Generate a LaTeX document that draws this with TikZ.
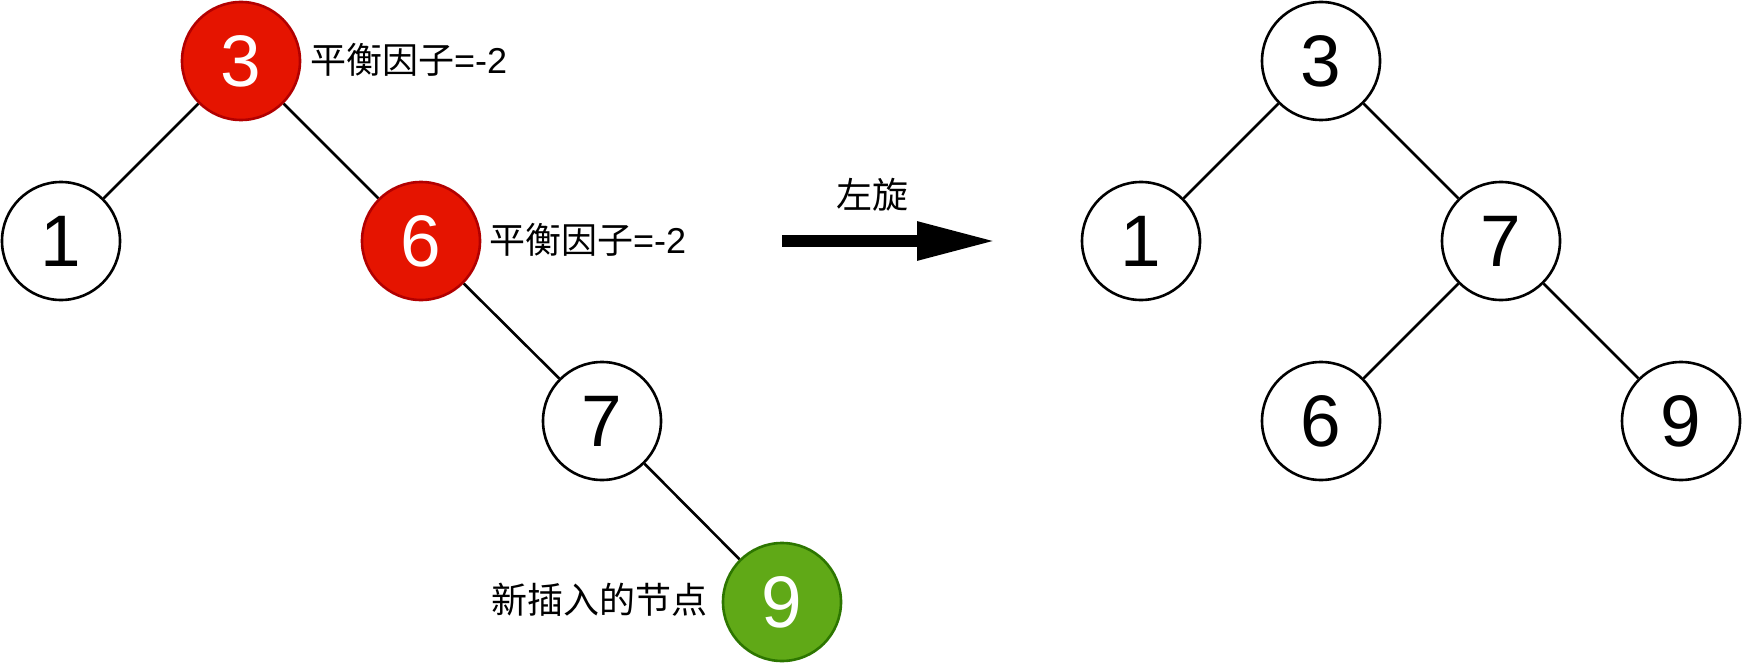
\documentclass[tikz,border=0pt]{standalone}
\usepackage{fontspec}
\setmainfont{Liberation Sans}
\newfontfamily\cjk{Noto Sans CJK SC}
\usetikzlibrary{arrows.meta}
\definecolor{nodered}{HTML}{E51400}
\definecolor{nodereddark}{HTML}{B20000}
\definecolor{nodegreen}{HTML}{60A917}
\definecolor{nodegreendark}{HTML}{2D7600}
\tikzset{
  treenode/.style={circle, draw=black, line width=2.6pt, fill=white, minimum size=118pt, inner sep=0pt, font=\fontsize{73}{73}\selectfont},
  rednode/.style={treenode, draw=nodereddark, fill=nodered, text=white},
  greennode/.style={treenode, draw=nodegreendark, fill=nodegreen, text=white},
  edge/.style={line width=2.6pt, draw=black},
  note/.style={font=\fontsize{36}{40}\selectfont, inner sep=0pt, text=black},
}
\begin{document}
\begin{tikzpicture}[x=1pt, y=-1pt]
\useasboundingbox (0,0) rectangle (1743,666);
% left tree
\node[rednode] (L3) at (241,61) {3};
\node[treenode] (L1) at (61,241) {1};
\node[rednode] (L6) at (421,241) {6};
\node[treenode] (L7) at (602,421) {7};
\node[greennode] (L9) at (782,602) {9};
\draw[edge] (L3) -- (L1);
\draw[edge] (L3) -- (L6);
\draw[edge] (L6) -- (L7);
\draw[edge] (L7) -- (L9);
\node[note, anchor=west] (b3) at (310,60) {{\cjk 平衡因子}=-2};
\node[note, anchor=west] (b6) at (489,240) {{\cjk 平衡因子}=-2};
\node[note, anchor=east] (new) at (708,600) {\cjk 新插入的节点};
% arrow
\coordinate (as) at (782,241);
\coordinate (ae) at (996,241);
\draw[line width=12pt, -{Triangle[length=79pt,width=36pt]}] (as) -- (ae);
\node[note] (rot) at (872,195) {\cjk 左旋};
% right tree
\node[treenode] (R3) at (1321,61) {3};
\node[treenode] (R1) at (1141,241) {1};
\node[treenode] (R7) at (1501,241) {7};
\node[treenode] (R6) at (1321,421) {6};
\node[treenode] (R9) at (1681,421) {9};
\draw[edge] (R3) -- (R1);
\draw[edge] (R3) -- (R7);
\draw[edge] (R7) -- (R6);
\draw[edge] (R7) -- (R9);
\end{tikzpicture}
\end{document}
